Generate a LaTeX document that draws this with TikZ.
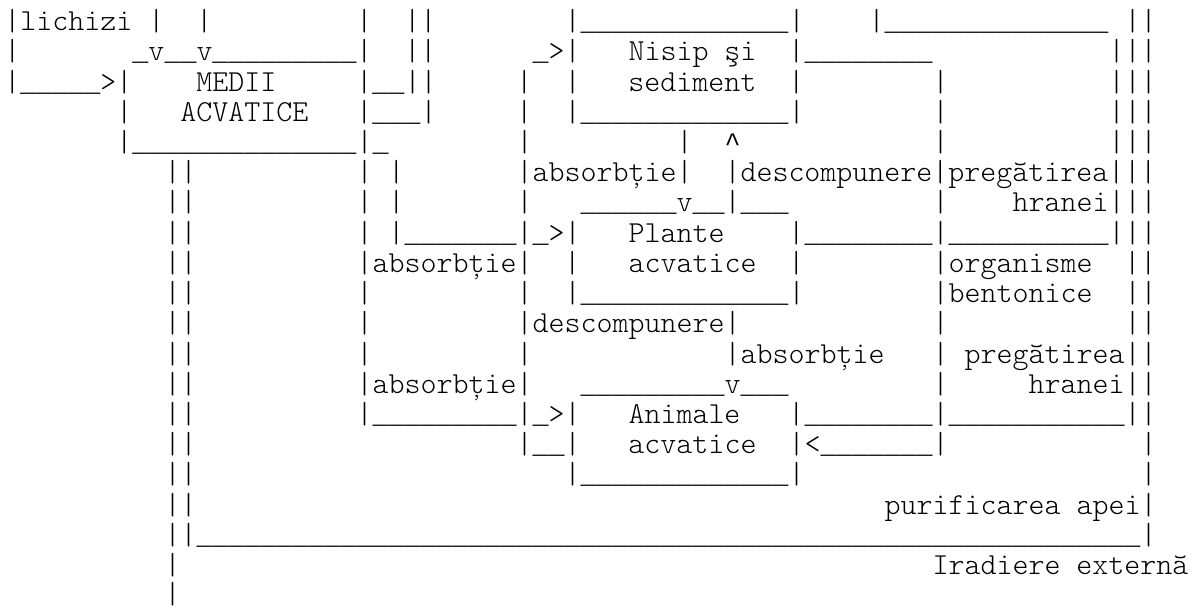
\documentclass[tikz,border=0pt]{standalone}
\usepackage{fontspec}
\usepackage{xcolor}
\usepackage{tikz}
\newfontfamily\asciifont{lmmonolt10-regular.otf}
\newfontfamily\linefont{Liberation Mono}
\newlength{\cw}
\setlength{\cw}{12pt}
\newcommand{\skipc}[1]{\hspace*{#1\cw}}
\newcommand{\linec}[1]{{\linefont\fontsize{20pt}{22.665pt}\selectfont\foreach \k in {1,...,#1}{\makebox[\cw][l]{\_}}}}
\newcommand{\caretc}{{\linefont\fontsize{20pt}{22.665pt}\selectfont\makebox[\cw][l]{\textasciicircum}}}
\tikzset{asciirow/.style={anchor=base west, inner sep=0pt, outer sep=0pt, text=black, font=\asciifont\fontsize{22.857pt}{22.665pt}\selectfont}}

\begin{document}
\begin{tikzpicture}[x=1pt,y=1pt]
					\useasboundingbox (0,0) rectangle (898.5,-454.5);
					\coordinate (l1) at (3.375,-23.000);
					\coordinate (l2) at (3.375,-45.665);
					\coordinate (l3) at (3.375,-68.330);
					\coordinate (l4) at (3.375,-90.995);
					\coordinate (l5) at (3.375,-113.660);
					\coordinate (l6) at (3.375,-136.325);
					\coordinate (l7) at (3.375,-158.990);
					\coordinate (l8) at (3.375,-181.655);
					\coordinate (l9) at (3.375,-204.320);
					\coordinate (l10) at (3.375,-226.985);
					\coordinate (l11) at (3.375,-249.650);
					\coordinate (l12) at (3.375,-272.315);
					\coordinate (l13) at (3.375,-294.980);
					\coordinate (l14) at (3.375,-317.645);
					\coordinate (l15) at (3.375,-340.310);
					\coordinate (l16) at (3.375,-362.975);
					\coordinate (l17) at (3.375,-385.640);
					\coordinate (l18) at (3.375,-408.305);
					\coordinate (l19) at (3.375,-430.970);
					\coordinate (l20) at (3.375,-452.300);
					
					\node (row1) at (l1) [asciirow] {|lichizi~|\skipc{2}|\skipc{9}|\skipc{2}||\skipc{8}|\linec{13}|\skipc{4}|\linec{14}~||};
					\node (row2) at (l2) [asciirow] {|\skipc{7}\linec{1}v\linec{2}v\linec{9}|\skipc{2}||\skipc{6}\linec{1}>|\skipc{3}Nisip~şi\skipc{2}|\linec{8}\skipc{11}|||};
					\node (row3) at (l3) [asciirow] {|\linec{5}>|\skipc{4}MEDII\skipc{5}|\linec{2}||\skipc{5}|\skipc{2}|\skipc{3}sediment\skipc{2}|\skipc{8}|\skipc{10}|||};
					\node (row4) at (l4) [asciirow] {\skipc{7}|\skipc{3}ACVATICE\skipc{3}|\linec{3}|\skipc{5}|\skipc{2}|\linec{13}|\skipc{8}|\skipc{10}|||};
					\node (row5) at (l5) [asciirow] {\skipc{7}|\linec{14}|\linec{1}\skipc{8}|\skipc{9}|\skipc{2}\caretc\skipc{12}|\skipc{10}|||};
					\node (row6) at (l6) [asciirow] {\skipc{10}||\skipc{10}|~|\skipc{7}|absorbție|\skipc{2}|descompunere|pregătirea|||};
					\node (row7) at (l7) [asciirow] {\skipc{10}||\skipc{10}|~|\skipc{7}|\skipc{3}\linec{6}v\linec{2}|\linec{3}\skipc{9}|\skipc{4}hranei|||};
					\node (row8) at (l8) [asciirow] {\skipc{10}||\skipc{10}|~|\linec{7}|\linec{1}>|\skipc{3}Plante\skipc{4}|\linec{8}|\linec{10}|||};
					\node (row9) at (l9) [asciirow] {\skipc{10}||\skipc{10}|absorbție|\skipc{2}|\skipc{3}acvatice\skipc{2}|\skipc{8}|organisme\skipc{2}||};
					\node (row10) at (l10) [asciirow] {\skipc{10}||\skipc{10}|\skipc{9}|\skipc{2}|\linec{13}|\skipc{8}|bentonice\skipc{2}||};
					\node (row11) at (l11) [asciirow] {\skipc{10}||\skipc{10}|\skipc{9}|descompunere|\skipc{12}|\skipc{11}||};
					\node (row12) at (l12) [asciirow] {\skipc{10}||\skipc{10}|\skipc{9}|\skipc{12}|absorbție\skipc{3}|~pregătirea||};
					\node (row13) at (l13) [asciirow] {\skipc{10}||\skipc{10}|absorbție|\skipc{3}\linec{9}v\linec{3}\skipc{9}|\skipc{5}hranei||};
					\node (row14) at (l14) [asciirow] {\skipc{10}||\skipc{10}|\linec{9}|\linec{1}>|\skipc{3}Animale\skipc{3}|\linec{8}|\linec{11}||};
					\node (row15) at (l15) [asciirow] {\skipc{10}||\skipc{20}|\linec{2}|\skipc{3}acvatice\skipc{2}|<\linec{7}|\skipc{12}|};
					\node (row16) at (l16) [asciirow] {\skipc{10}||\skipc{23}|\linec{13}|\skipc{21}|};
					\node (row17) at (l17) [asciirow] {\skipc{10}||\skipc{43}purificarea~apei|};
					\node (row18) at (l18) [asciirow] {\skipc{10}||\linec{59}|};
					\node (row19) at (l19) [asciirow] {\skipc{10}|\skipc{47}Iradiere~externă};
					\node (row20) at (l20) [asciirow] {\skipc{10}|};
				\end{tikzpicture}
\end{document}
